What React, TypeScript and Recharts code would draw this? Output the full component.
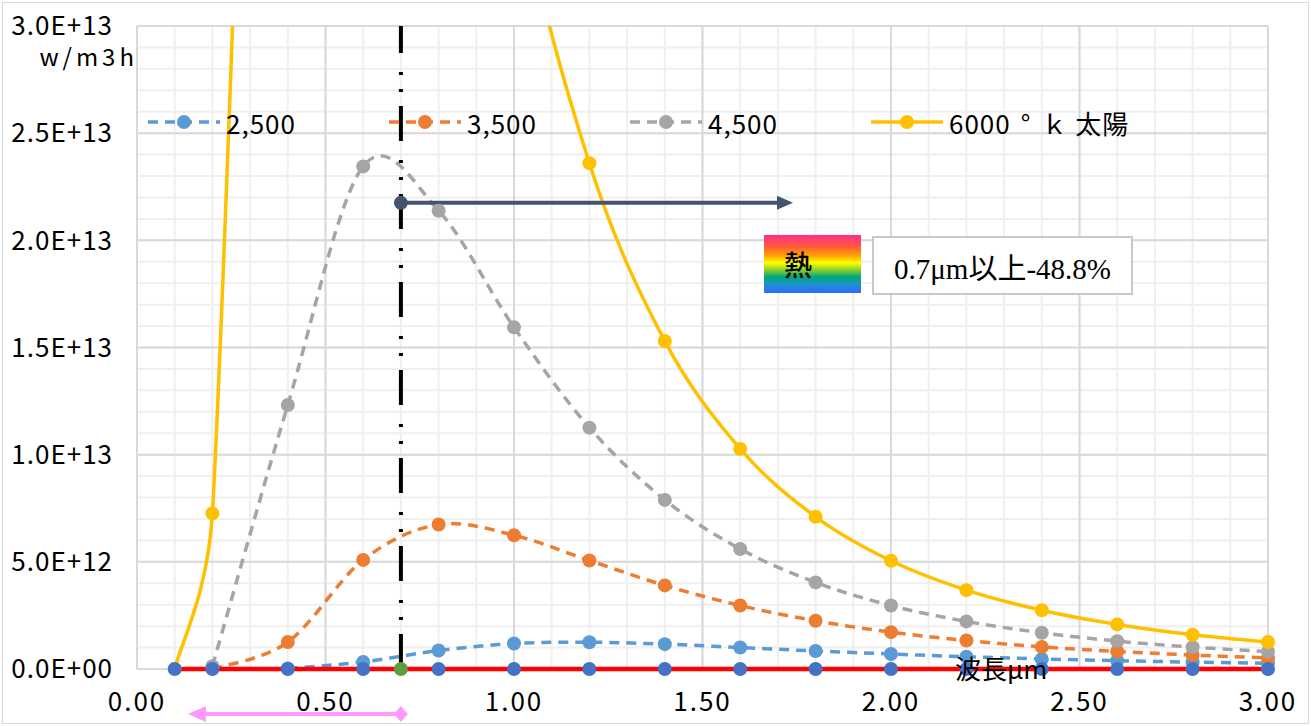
import React from 'react'
import { CartesianGrid, Line, LineChart, ReferenceLine, XAxis, YAxis } from 'recharts'

// Black-body spectral exitance curves (W/m3).
const wavelengths = [0.1, 0.2, 0.4, 0.6, 0.8, 1.0, 1.2, 1.4, 1.6, 1.8, 2.0, 2.2, 2.4, 2.6, 2.8, 3.0]

const k2500 = [null, null, 0.002e13, 0.033e13, 0.086e13, 0.119e13, 0.125e13, 0.116e13, 0.1e13, 0.084e13, 0.07e13, 0.057e13, 0.047e13, 0.039e13, 0.032e13, 0.027e13]
const k3500 = [null, 0, 0.126e13, 0.509e13, 0.674e13, 0.624e13, 0.506e13, 0.39e13, 0.296e13, 0.225e13, 0.172e13, 0.133e13, 0.103e13, 0.082e13, 0.065e13, 0.052e13]
const k4500 = [null, 0.013e13, 1.232e13, 2.345e13, 2.138e13, 1.594e13, 1.126e13, 0.789e13, 0.56e13, 0.404e13, 0.296e13, 0.222e13, 0.169e13, 0.13e13, 0.102e13, 0.081e13]
const k6000 = [0, 0.726e13, 9.12e13, 9.01e13, 6.0e13, 3.74e13, 2.36e13, 1.53e13, 1.027e13, 0.71e13, 0.505e13, 0.368e13, 0.274e13, 0.208e13, 0.16e13, 0.126e13]

const xTicks = [0, 0.5, 1, 1.5, 2, 2.5, 3]
const yTicks = [0, 0.5e13, 1e13, 1.5e13, 2e13, 2.5e13, 3e13]

// annotation positions, in data units
const visibleEdge = 0.7
const heatArrowEnd = 1.74
const heatArrowLevel = 2.175e13
const visibleBandStart = 0.135
const visibleBandLevel = -0.21e13

const minorX = Array.from({ length: 31 }, (_, i) => +(i * 0.1).toFixed(1))
const minorY = Array.from({ length: 31 }, (_, i) => i * 1e12)

const series = [
  { name: '2,500', values: k2500, color: '#5B9BD5', dashed: true },
  { name: '3,500', values: k3500, color: '#ED7D31', dashed: true },
  { name: '4,500', values: k4500, color: '#A5A5A5', dashed: true },
  { name: '6000°ｋ太陽', values: k6000, color: '#FFC000', dashed: false },
]

const toRows = (vals: (number | null)[]) =>
  wavelengths.map((x, i) => ({ x, y: vals[i] })).filter((p) => p.y !== null)

const baseRows = wavelengths.map((x) => ({ x, y: 0 }))
const edgeRows = [{ x: visibleEdge, y: 0 }]

// Excel-like smoothing: Catmull-Rom handles, capped at half the segment length
function excelSmooth(context: any) {
  let pts: number[][] = []
  const handle = (a: number[], b: number[], seg: number) => {
    let hx = (b[0] - a[0]) / 6
    let hy = (b[1] - a[1]) / 6
    const l = Math.hypot(hx, hy)
    if (l > seg * 0.5) {
      hx = (hx / l) * seg * 0.5
      hy = (hy / l) * seg * 0.5
    }
    return [hx, hy]
  }
  return {
    areaStart() {},
    areaEnd() {},
    lineStart() {
      pts = []
    },
    point(x: number, y: number) {
      pts.push([+x, +y])
    },
    lineEnd() {
      if (!pts.length) return
      context.moveTo(pts[0][0], pts[0][1])
      for (let i = 0; i < pts.length - 1; i++) {
        const p0 = pts[i - 1] || pts[i]
        const p1 = pts[i]
        const p2 = pts[i + 1]
        const p3 = pts[i + 2] || p2
        const seg = Math.hypot(p2[0] - p1[0], p2[1] - p1[1])
        const h1 = handle(p0, p2, seg)
        const h2 = handle(p1, p3, seg)
        context.bezierCurveTo(p1[0] + h1[0], p1[1] + h1[1], p2[0] - h2[0], p2[1] - h2[1], p2[0], p2[1])
      }
    },
  }
}

const fmtY = (v: number) => (v === 0 ? '0.0E+00' : v.toExponential(1).toUpperCase())

const HeatArrow = (props: any) => {
  const { x1, y1, x2, y2 } = props
  return (
    <g>
      <line x1={x1} y1={y1} x2={x2 - 12} y2={y2} stroke="#44546A" strokeWidth={4} />
      <circle cx={x1} cy={y1} r={7} fill="#44546A" />
      <path d={`M${x2},${y2} L${x2 - 16},${y2 - 7} L${x2 - 16},${y2 + 7} Z`} fill="#44546A" />
    </g>
  )
}

const BandArrow = (props: any) => {
  const { x1, y1, x2, y2 } = props
  return (
    <g>
      <line x1={x1 + 12} y1={y1} x2={x2 - 5} y2={y2} stroke="#FF99FF" strokeWidth={4} />
      <path d={`M${x1},${y1} L${x1 + 18},${y1 - 8} L${x1 + 18},${y1 + 8} Z`} fill="#FF99FF" />
      <path d={`M${x2 + 7},${y2} L${x2},${y2 - 8} L${x2 - 7},${y2} L${x2},${y2 + 8} Z`} fill="#FF99FF" />
    </g>
  )
}

const font = "'Noto Sans CJK JP', 'Noto Sans', sans-serif"

function LegendItem({ left, name, color, dashed }: { left: number; name: string; color: string; dashed: boolean }) {
  const label =
    name === '6000°ｋ太陽' ? (
      <>
        6000<span style={{ margin: '0 10px' }}>°</span>ｋ 太陽
      </>
    ) : (
      name
    )
  return (
    <div style={{ position: 'absolute', left, top: 104, height: 36, display: 'flex', alignItems: 'center' }}>
      <svg width={72} height={20} style={{ display: 'block' }}>
        <line x1={0} y1={10} x2={72} y2={10} stroke={color} strokeWidth={3.5} strokeDasharray={dashed ? '10 7' : undefined} />
        <circle cx={36} cy={10} r={7} fill={color} />
      </svg>
      <span style={{ marginLeft: 6, fontSize: 26, color: '#000', whiteSpace: 'nowrap', letterSpacing: 1 }}>{label}</span>
    </div>
  )
}

export default function App() {
  return (
    <div style={{ position: 'absolute', left: 0, top: 0, width: 1311, height: 726, background: '#fff', fontFamily: font }}>
      <div style={{ position: 'absolute', left: 2, top: 2, right: 2, bottom: 2, border: '1px solid #D9D9D9' }} />
      <LineChart width={1311} height={726} margin={{ top: 26, right: 43, bottom: 0, left: 0 }}>
        <CartesianGrid stroke="#EFEFEF" strokeWidth={2} verticalValues={minorX} horizontalValues={minorY} />
        <CartesianGrid stroke="#D9D9D9" strokeWidth={2} />
        <XAxis
          type="number"
          dataKey="x"
          domain={[0, 3]}
          ticks={xTicks}
          interval={0}
          tickFormatter={(v: number) => v.toFixed(2)}
          axisLine={false}
          tickLine={false}
          tickSize={0}
          tickMargin={24}
          height={57}
          tick={{ fill: '#000', fontSize: 26, fontFamily: font, style: { letterSpacing: 2 } }}
        />
        <YAxis
          type="number"
          domain={[0, 3e13]}
          ticks={yTicks}
          interval={0}
          allowDataOverflow
          tickFormatter={fmtY}
          axisLine={false}
          tickLine={false}
          tickSize={0}
          tickMargin={24}
          width={137}
          tick={{ fill: '#000', fontSize: 26, fontFamily: font, style: { letterSpacing: 1 } }}
        />
        <YAxis yAxisId="base" type="number" domain={[0, 3e13]} hide />
        {series.map((s) => (
          <Line
            key={s.name}
            data={toRows(s.values)}
            dataKey="y"
            type={excelSmooth as any}
            stroke={s.color}
            strokeWidth={3.5}
            strokeDasharray={s.dashed ? '10 7' : undefined}
            dot={{ r: 7, fill: s.color, stroke: 'none' }}
            activeDot={false}
            isAnimationActive={false}
          />
        ))}
        <Line
          yAxisId="base"
          data={baseRows}
          dataKey="y"
          type="linear"
          stroke="#FF0000"
          strokeWidth={4.5}
          dot={{ r: 7, fill: '#4472C4', stroke: 'none' }}
          activeDot={false}
          isAnimationActive={false}
        />
        <ReferenceLine
          segment={[
            { x: visibleEdge, y: 0 },
            { x: visibleEdge, y: 3e13 },
          ]}
          stroke="#000"
          strokeWidth={4}
          strokeDasharray="35 14 3 14 3 19"
        />
        <Line
          yAxisId="base"
          data={edgeRows}
          dataKey="y"
          stroke="none"
          dot={{ r: 7, fill: '#5F9E3C', stroke: 'none' }}
          activeDot={false}
          isAnimationActive={false}
        />
        <ReferenceLine
          segment={[
            { x: visibleEdge, y: heatArrowLevel },
            { x: heatArrowEnd, y: heatArrowLevel },
          ]}
          shape={HeatArrow}
        />
        <ReferenceLine
          segment={[
            { x: visibleBandStart, y: visibleBandLevel },
            { x: visibleEdge, y: visibleBandLevel },
          ]}
          ifOverflow="visible"
          shape={BandArrow}
        />
      </LineChart>

      {series.map((s, i) => (
        <LegendItem key={s.name} left={148 + i * 241} name={s.name} color={s.color} dashed={s.dashed} />
      ))}

      <div style={{ position: 'absolute', left: 20, top: 41, width: 118, textAlign: 'right', fontSize: 24, letterSpacing: 4, lineHeight: '30px', color: '#000' }}>
        w/m3h
      </div>

      <div
        style={{
          position: 'absolute',
          left: 764,
          top: 235,
          width: 97,
          height: 58,
          background:
            'linear-gradient(to bottom, #FF2E8A 0%, #FF5A3C 20%, #FFA500 36%, #FFFF00 48%, #8CD02A 60%, #00A878 72%, #1E90D0 86%, #3366FF 100%)',
        }}
      >
        <div style={{ position: 'absolute', left: 20, top: 12, fontSize: 28, lineHeight: '34px', color: '#000', fontWeight: 500 }}>熱</div>
      </div>

      <div
        style={{
          position: 'absolute',
          left: 872,
          top: 236,
          width: 257,
          height: 55,
          border: '2px solid #C8C8C8',
          background: '#fff',
          display: 'flex',
          alignItems: 'center',
          justifyContent: 'center',
          fontFamily: "'Liberation Serif', 'Noto Sans CJK JP', serif",
          fontSize: 29,
          color: '#000',
        }}
      >
        0.7μm以上-48.8%
      </div>

      <div style={{ position: 'absolute', left: 955, top: 652, fontSize: 26, lineHeight: '32px', color: '#000' }}>波長μm</div>
    </div>
  )
}
